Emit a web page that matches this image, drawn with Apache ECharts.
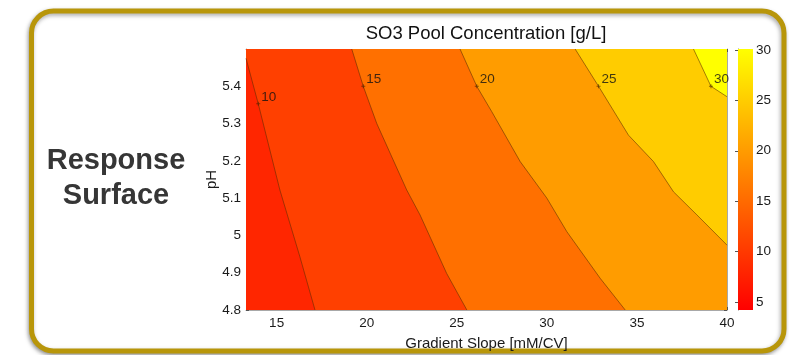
<!DOCTYPE html>
<html>
<head>
<meta charset="utf-8">
<script src="https://cdn.jsdelivr.net/npm/echarts@6/dist/echarts.min.js"></script>
<style>
html,body{margin:0;padding:0;background:#fff;}
#chart{width:789px;height:355px;}
</style>
</head>
<body>
<div id="chart"></div>
<script>
// ---- data ----
const xRange = [13.3, 40];          // Gradient Slope [mM/CV]
const yRange = [4.8, 5.5];          // pH
const xTicks = [15, 20, 25, 30, 35, 40];
const yTicks = [4.8, 4.9, 5.0, 5.1, 5.2, 5.3, 5.4];
const levels = [10, 15, 20, 25, 30];
const contour10 = [[13.3, 5.475], [13.98, 5.353], [15.18, 5.122], [16.29, 4.943], [17.13, 4.80]];
const contour15 = [[19.17, 5.5], [19.81, 5.40], [20.56, 5.30], [22.22, 5.122], [22.96, 5.055], [24.44, 4.898], [25.56, 4.80]];
const contour20 = [[25.18, 5.5], [26.11, 5.40], [26.94, 5.332], [28.52, 5.198], [30.0, 5.10], [31.11, 5.01], [32.96, 4.885], [34.35, 4.80]];
const contour25 = [[31.57, 5.5], [32.87, 5.40], [34.53, 5.269], [35.92, 5.198], [37.03, 5.117], [38.33, 5.055], [40, 4.974]];
const contour30 = [[38.14, 5.5], [39.11, 5.40], [40, 5.372]];
const labelX = [13.98, 19.81, 26.11, 32.87, 39.11];
const labelY = [5.353, 5.40, 5.40, 5.40, 5.40];
const colorbarRange = [4.2, 30.1];
const colorbarTicks = [5, 10, 15, 20, 25, 30];

// ---- styles ----
const contours = [contour10, contour15, contour20, contour25, contour30];
const regionColors = ['#ff2600', '#ff4000', '#ff7000', '#ff9c00', '#ffcc00', '#ffff00'];
const FONT = 'Liberation Sans, Arial, Helvetica, sans-serif';
const axisGrey = '#a8a8a8';
const tickGrey = '#555';

function regionPolygon(k) {
  const [x0, x1] = xRange, [y0, y1] = yRange;
  if (k === 0) return [[x0, y0], [x1, y0], [x1, y1], [x0, y1]];
  const pts = contours[k - 1].slice();
  const first = pts[0], last = pts[pts.length - 1];
  if (last[1] === y0) pts.push([x1, y0]);
  pts.push([x1, y1]);
  if (first[0] === x0) pts.push([x0, y1]);
  return pts;
}

const chart = echarts.init(document.getElementById('chart'), null, {renderer: 'canvas'});

const series = [];
series.push({
  type: 'custom',
  xAxisIndex: 0, yAxisIndex: 0,
  clip: true,
  silent: true,
  z: 1,
  data: regionColors.map((c, k) => [k]),
  renderItem: function (params, api) {
    const k = api.value(0);
    const pts = regionPolygon(k).map(p => api.coord(p));
    return {type: 'polygon', shape: {points: pts}, style: {fill: regionColors[k]}};
  }
});
contours.forEach((c, i) => {
  series.push({
    type: 'line', name: 'c' + levels[i],
    xAxisIndex: 0, yAxisIndex: 0,
    data: c, showSymbol: false, silent: true, z: 3,
    lineStyle: {color: 'rgba(90,45,0,0.7)', width: 0.8}
  });
});
series.push({
  type: 'scatter',
  xAxisIndex: 0, yAxisIndex: 0,
  z: 4, silent: true,
  symbol: 'path://M1.5,0H2.5V1.5H4V2.5H2.5V4H1.5V2.5H0V1.5H1.5Z',
  symbolSize: 4,
  itemStyle: {color: 'rgba(70,35,0,0.8)'},
  data: labelX.map((x, i) => [x, labelY[i]]),
  label: {
    show: true, position: 'right', distance: 1, offset: [0, -7],
    fontFamily: FONT, fontSize: 13.5, color: '#111',
    formatter: p => String(levels[p.dataIndex])
  }
});
series.push({
  type: 'custom',
  xAxisIndex: 2, yAxisIndex: 2,
  silent: true,
  data: [[0, colorbarRange[0], colorbarRange[1]]],
  renderItem: function (params, api) {
    const p1 = api.coord([0, api.value(2)]);
    const p2 = api.coord([1, api.value(1)]);
    return {
      type: 'rect',
      shape: {x: p1[0], y: p1[1], width: p2[0] - p1[0], height: p2[1] - p1[1]},
      style: {
        fill: new echarts.graphic.LinearGradient(0, 0, 0, 1, [
          {offset: 0, color: '#ffff00'}, {offset: 1, color: '#ff0000'}
        ])
      }
    };
  }
});

const tickStyle = {show: true, inside: true, length: 3, lineStyle: {color: tickGrey, width: 1}};
const lineStyle = {show: true, lineStyle: {color: axisGrey, width: 1}};
const labelStyle = {fontFamily: FONT, fontSize: 13.5, color: '#1a1a1a'};
const nameStyle = {fontFamily: FONT, fontSize: 15, color: '#1a1a1a'};

chart.setOption({
  animation: false,
  backgroundColor: '#fff',
  title: {
    text: 'SO3 Pool Concentration [g/L]',
    left: 481, top: 19, textAlign: 'center',
    textStyle: {fontFamily: FONT, fontSize: 18.5, fontWeight: 'normal', color: '#111'}
  },
  graphic: [
    {
      type: 'rect', z: -10,
      shape: {x: 31.5, y: 11, width: 752.5, height: 340, r: 22},
      style: {fill: '#fff', stroke: '#b8960a', lineWidth: 5,
        shadowBlur: 4, shadowColor: 'rgba(0,0,0,0.35)', shadowOffsetX: -1, shadowOffsetY: 2}
    },
    {
      type: 'text', z: 10,
      x: 116, y: 178.5,
      style: {
        text: 'Response\nSurface', textAlign: 'center', textVerticalAlign: 'middle',
        fontFamily: FONT, fontSize: 29, fontWeight: 'bold', lineHeight: 35, fill: '#363636'
      }
    }
  ],
  grid: [
    {left: 246, right: 62, top: 49, bottom: 45, outerBoundsMode: 'none', containLabel: false},
    {left: 738, width: 15, top: 49, bottom: 45, outerBoundsMode: 'none', containLabel: false}
  ],
  xAxis: [
    {
      gridIndex: 0, type: 'value', min: xRange[0], max: xRange[1], position: 'bottom',
      axisLine: lineStyle,
      axisTick: Object.assign({customValues: xTicks}, tickStyle),
      axisLabel: Object.assign({customValues: xTicks, margin: 6}, labelStyle),
      splitLine: {show: false},
      name: 'Gradient Slope [mM/CV]', nameLocation: 'middle', nameGap: 26.5,
      nameMoveOverlap: false,
      nameTextStyle: nameStyle
    },
    {
      gridIndex: 0, type: 'value', min: xRange[0], max: xRange[1], position: 'top',
      axisLine: lineStyle,
      axisTick: Object.assign({customValues: xTicks}, tickStyle),
      axisLabel: {show: false}, splitLine: {show: false}
    },
    {gridIndex: 1, type: 'value', min: 0, max: 1, show: false}
  ],
  yAxis: [
    {
      gridIndex: 0, type: 'value', min: yRange[0], max: yRange[1], position: 'left',
      axisLine: lineStyle,
      axisTick: Object.assign({customValues: yTicks}, tickStyle),
      axisLabel: Object.assign({customValues: yTicks, margin: 5}, labelStyle),
      splitLine: {show: false},
      name: 'pH', nameLocation: 'middle', nameGap: 27, nameMoveOverlap: false,
      nameTextStyle: nameStyle
    },
    {
      gridIndex: 0, type: 'value', min: yRange[0], max: yRange[1], position: 'right',
      axisLine: lineStyle,
      axisTick: Object.assign({customValues: yTicks}, tickStyle),
      axisLabel: {show: false}, splitLine: {show: false}
    },
    {
      gridIndex: 1, type: 'value', min: colorbarRange[0], max: colorbarRange[1], position: 'right',
      axisLine: lineStyle,
      axisTick: Object.assign({customValues: colorbarTicks}, tickStyle),
      axisLabel: Object.assign({customValues: colorbarTicks, margin: 3}, labelStyle),
      splitLine: {show: false}
    },
    {
      gridIndex: 1, type: 'value', min: colorbarRange[0], max: colorbarRange[1], position: 'left',
      axisLine: lineStyle,
      axisTick: Object.assign({customValues: colorbarTicks}, tickStyle),
      axisLabel: {show: false}, splitLine: {show: false}
    }
  ],
  series: series
});
</script>
</body>
</html>
